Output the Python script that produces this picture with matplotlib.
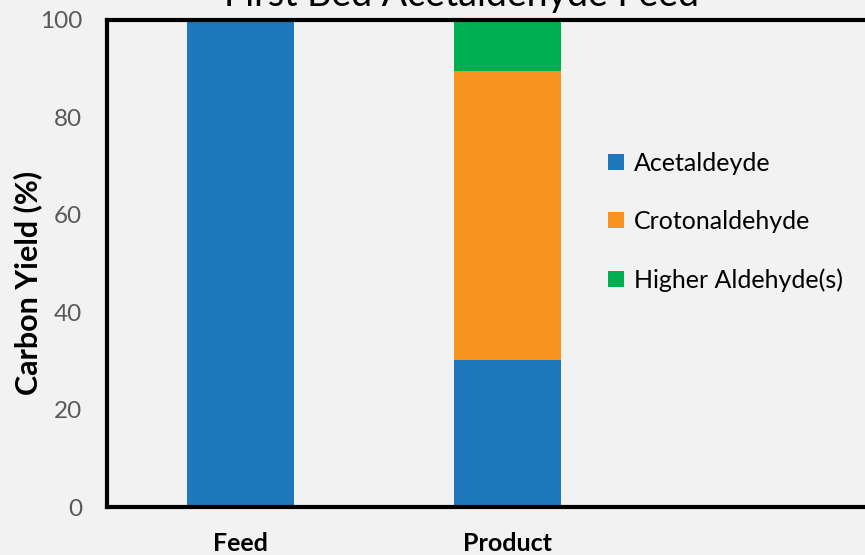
import matplotlib
matplotlib.use("Agg")
import matplotlib.pyplot as plt
from matplotlib.patches import Patch

categories = ["Feed", "Product", ""]
acetaldehyde = [100, 30.2, 0]
crotonaldehyde = [0, 59.3, 0]
higher = [0, 10.5, 0]
series_names = ["Acetaldeyde", "Crotonaldehyde", "Higher Aldehyde(s)"]
colors = ["#1f77bc", "#f7931e", "#00b050"]

plt.rcParams['font.family'] = ['Lato', 'DejaVu Sans']

fig = plt.figure(figsize=(8.65, 5.55), dpi=100, facecolor="#f2f2f2")
ax = fig.add_axes([107/865, 1 - 507/555, (908-107)/865, (507-20)/555])
ax.set_facecolor("#f2f2f2")

x = list(range(len(categories)))
w = 0.4
ax.bar(x, acetaldehyde, w, color=colors[0])
ax.bar(x, crotonaldehyde, w, bottom=acetaldehyde, color=colors[1])
bot2 = [a + c for a, c in zip(acetaldehyde, crotonaldehyde)]
ax.bar(x, higher, w, bottom=bot2, color=colors[2])

ax.set_xlim(-0.5, 2.5)
ax.set_ylim(0, 100)
ax.set_yticks([0, 20, 40, 60, 80, 100])
ax.set_xticks(x)
ax.set_xticklabels(categories, fontsize=18, fontweight='bold', color='black')
ax.tick_params(axis='y', labelsize=17.5, labelcolor='#595959', length=0, pad=18)
ax.tick_params(axis='x', length=0, pad=18)
for s in ax.spines.values():
    s.set_linewidth(3)
    s.set_color('black')

fig.text(28/865, 1 - 283/555, "Carbon Yield (%)", rotation=90, ha='center', va='center',
         fontsize=22, fontweight='bold')

handles = [Patch(facecolor=c, edgecolor='none') for c in colors]
leg = ax.legend(handles, series_names, loc='upper left',
                bbox_to_anchor=(608/865, 1 - 152/555), bbox_transform=fig.transFigure,
                frameon=False, fontsize=18, labelspacing=1.4, handlelength=0.62,
                handleheight=0.62, handletextpad=0.4, borderpad=0, borderaxespad=0)

fig.text(462/865, 1 - 6/555, "First Bed Acetaldehyde Feed", ha='center', va='baseline', fontsize=27)

fig.savefig("out.png", dpi=100, facecolor=fig.get_facecolor())
